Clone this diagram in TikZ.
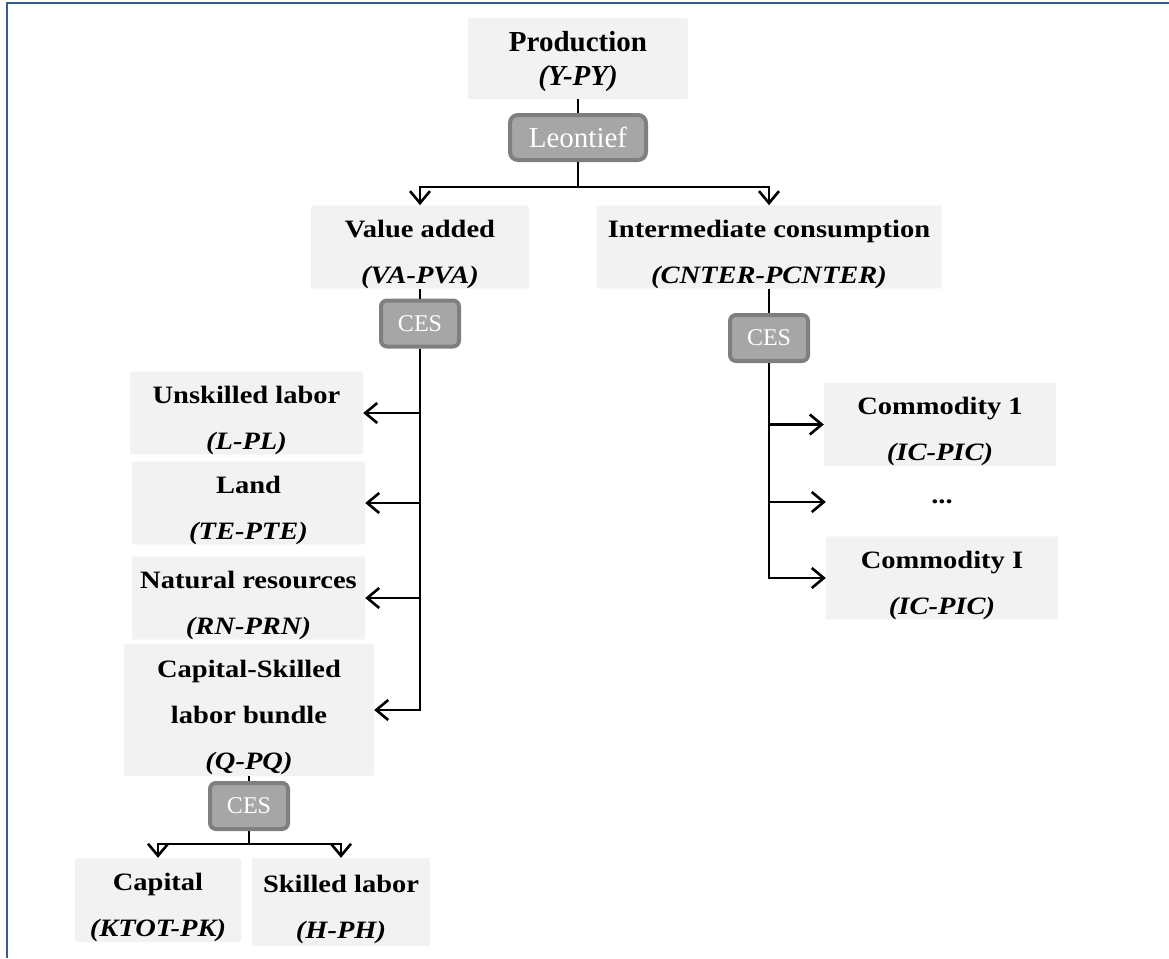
\documentclass[tikz,border=0pt]{standalone}
\usepackage{fontspec}
\setmainfont{Liberation Serif}
\newfontfamily\cambria{Liberation Serif}[FakeStretch=1.14]
\usetikzlibrary{arrows.meta, positioning, calc}
\definecolor{frameblue}{RGB}{54, 95, 145}
\definecolor{boxgray}{RGB}{242, 242, 242}
\definecolor{funcfill}{RGB}{166, 166, 166}
\definecolor{funcdraw}{RGB}{127, 127, 127}
% two-line label: name, then quantity-price pair
\newcommand{\varlabel}[2]{\rule{0pt}{32pt}#1\\[16pt]\textit{#2}}
\tikzset{
    varfont/.style={font=\cambria\fontsize{25}{30}\selectfont\bfseries},
    varbox/.style={varfont, fill=boxgray, rounded corners=2pt, inner sep=0pt, align=center},
    funcbox/.style={draw=funcdraw, fill=funcfill, line width=4pt, rounded corners=6pt, text=white, font=\fontsize{24}{28}\selectfont, minimum width=78pt, minimum height=46pt, inner sep=0pt},
    link/.style={line width=1.8pt},
    flow/.style={line width=2.6pt, -{Straight Barb[length=12pt, width=20pt]}},
}

\begin{document}
\begin{tikzpicture}[x=1pt, y=-1pt]
    \useasboundingbox (0,0) rectangle (1169,958);
    \draw[frameblue, line width=2.5pt] (7,958) -- (7,3) -- (1169,3);

    % top level
    \node[varbox, minimum width=220pt, minimum height=81pt, font=\fontsize{29}{34}\selectfont\bfseries] (prod) at (578,58.5) {\rule{0pt}{26pt}Production\\\textit{(Y-PY)}};
    \node[funcbox, minimum width=136pt, minimum height=45pt, rounded corners=8pt, font=\fontsize{29}{32}\selectfont] (leon) at (578,137.5) {Leontief};
    \node[varbox, minimum width=218pt, minimum height=80pt] (va) at (420,247) {\varlabel{Value added}{(VA-PVA)}};
    \node[varbox, minimum width=345pt, minimum height=80pt] (ic) at (769,247) {\varlabel{Intermediate consumption}{(CNTER-PCNTER)}};
    \node[funcbox] (cesva) at (420,323.5) {CES};
    \node[funcbox] (cesic) at (769,338) {CES};

    % value added branch
    \node[varbox, minimum width=233pt, minimum height=80pt] (unsk) at (246.5,413) {\varlabel{Unskilled labor}{(L-PL)}};
    \node[varbox, minimum width=233pt, minimum height=80pt] (land) at (248.5,503) {\varlabel{Land}{(TE-PTE)}};
    \node[varbox, minimum width=233pt, minimum height=80pt] (natres) at (248.5,598) {\varlabel{Natural resources}{(RN-PRN)}};
    \node[varbox, minimum width=250pt, minimum height=132pt] (bundle) at (249,710) {\varlabel{Capital-Skilled\\[16pt]labor bundle}{(Q-PQ)}};
    \node[funcbox] (cesq) at (249,806) {CES};
    \node[varbox, minimum width=166pt, minimum height=84pt] (cap) at (158,900) {\varlabel{Capital}{(KTOT-PK)}};
    \node[varbox, minimum width=178pt, minimum height=88pt] (skill) at (341,902) {\varlabel{Skilled labor}{(H-PH)}};

    % intermediate branch
    \node[varbox, minimum width=232pt, minimum height=81pt] (com1) at (940,424.5) {\varlabel{Commodity 1}{(IC-PIC)}};
    \node[varfont, minimum width=232pt, inner sep=0pt] (dots) at (942,502) {...};
    \node[varbox, minimum width=232pt, minimum height=80pt] (comI) at (942,578) {\varlabel{Commodity I}{(IC-PIC)}};

    \draw[link] (prod) -- (leon);
    \draw[flow] (leon.south) -- ++(0,25) -| (va.north);
    \draw[flow] (leon.south) -- ++(0,25) -| (ic.north);

    \draw[link] (va) -- (cesva);
    \draw[flow] (cesva.south) |- (unsk.east);
    \draw[flow] (cesva.south) |- (land.east);
    \draw[flow] (cesva.south) |- (natres.east);
    \draw[flow] (cesva.south) |- (bundle.east);

    \draw[link] (ic) -- (cesic);
    \draw[flow] (cesic.south) |- (com1.west);
    \draw[flow] (cesic.south) |- (dots.west);
    \draw[flow] (cesic.south) |- (comI.west);

    \draw[link] (bundle) -- (cesq);
    \draw[flow] (cesq.south) -- ++(0,13) -| (cap.north);
    \draw[flow] (cesq.south) -- ++(0,13) -| (skill.north);
\end{tikzpicture}
\end{document}
